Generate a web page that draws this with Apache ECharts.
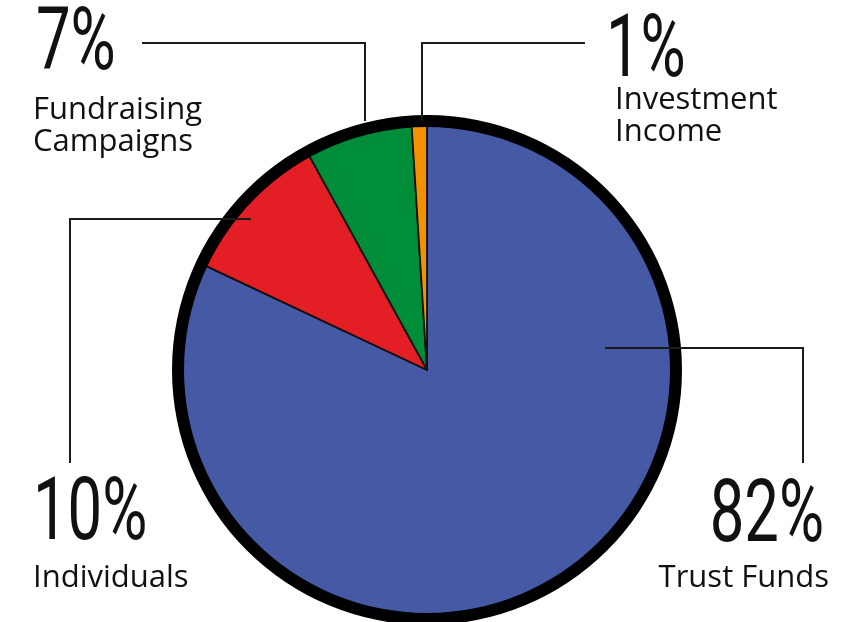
<!DOCTYPE html>
<html>
<head>
<meta charset="utf-8">
<script src="https://cdn.jsdelivr.net/npm/echarts@6/dist/echarts.min.js"></script>
<style>
  html, body { margin: 0; padding: 0; background: #ffffff; }
  #chart { width: 862px; height: 622px; }
</style>
</head>
<body>
<div id="chart"></div>
<script>
// Income sources, clockwise from twelve o'clock
const categories = ['Trust Funds', 'Individuals', 'Fundraising Campaigns', 'Investment Income'];
const shares = [82, 10, 7, 1];
const captions = ['Trust Funds', 'Individuals', 'Fundraising\nCampaigns', 'Investment\nIncome'];
const sliceColors = ['#4559a5', '#e31e24', '#008d3a', '#f39200'];

// Annotation layout: leader-line path, percentage text and caption placement
const callouts = [
  { line: [[605, 348], [803, 348], [803, 463]], align: 'right', pct: [824, 519], cap: [829, 562] },
  { line: [[251, 219], [70, 219], [70, 463]],   align: 'left',  pct: [33, 517],  cap: [33, 562] },
  { line: [[365, 121], [365, 43], [142, 43]],   align: 'left',  pct: [36, 47],   cap: [33, 94] },
  { line: [[422, 121], [422, 43], [585, 43]],   align: 'left',  pct: [606, 54],  cap: [615, 84] }
];

const PCT_FONT = '400 88px Roboto';
const CAP_FONT = '400 31px "Open Sans"';

function render() {
  const chart = echarts.init(document.getElementById('chart'), null, { renderer: 'canvas' });

  const graphics = [];
  categories.forEach((name, i) => {
    const c = callouts[i];
    graphics.push({
      type: 'polyline', z: 100, silent: true,
      shape: { points: c.line },
      style: { stroke: '#1a1a1a', lineWidth: 2, fill: null }
    });
    graphics.push({
      type: 'text', z: 100, silent: true,
      x: c.pct[0], y: c.pct[1], scaleX: 0.7,
      style: {
        text: shares[i] + '%',
        font: PCT_FONT + ', sans-serif',
        fill: '#111111', textAlign: c.align, textVerticalAlign: 'middle'
      }
    });
    graphics.push({
      type: 'text', z: 100, silent: true,
      x: c.cap[0], y: c.cap[1],
      style: {
        text: captions[i],
        font: CAP_FONT + ', "Noto Sans", sans-serif',
        lineHeight: 32,
        fill: '#111111', textAlign: c.align, textVerticalAlign: 'top'
      }
    });
  });

  chart.setOption({
    animation: false,
    backgroundColor: '#ffffff',
    series: [
      {
        type: 'pie',
        center: [427, 370],
        radius: [0, 245],
        startAngle: 90,
        clockwise: true,
        silent: true,
        label: { show: false },
        labelLine: { show: false },
        itemStyle: { borderColor: '#111111', borderWidth: 1.8 },
        emphasis: { disabled: true },
        data: categories.map((name, i) => ({
          name: name, value: shares[i], itemStyle: { color: sliceColors[i] }
        }))
      },
      {
        // heavy outline around the pie
        type: 'pie',
        center: [427, 370],
        radius: [243, 255],
        silent: true,
        label: { show: false },
        labelLine: { show: false },
        emphasis: { disabled: true },
        itemStyle: { color: '#000000' },
        data: [{ name: 'outline', value: 1 }]
      }
    ],
    graphic: graphics
  });
}

// make sure both faces are ready before the canvas is painted
Promise.all([
  document.fonts.load(PCT_FONT, '0123456789%'),
  document.fonts.load(CAP_FONT, 'Trust Funds')
]).then(render, render);
</script>
</body>
</html>
